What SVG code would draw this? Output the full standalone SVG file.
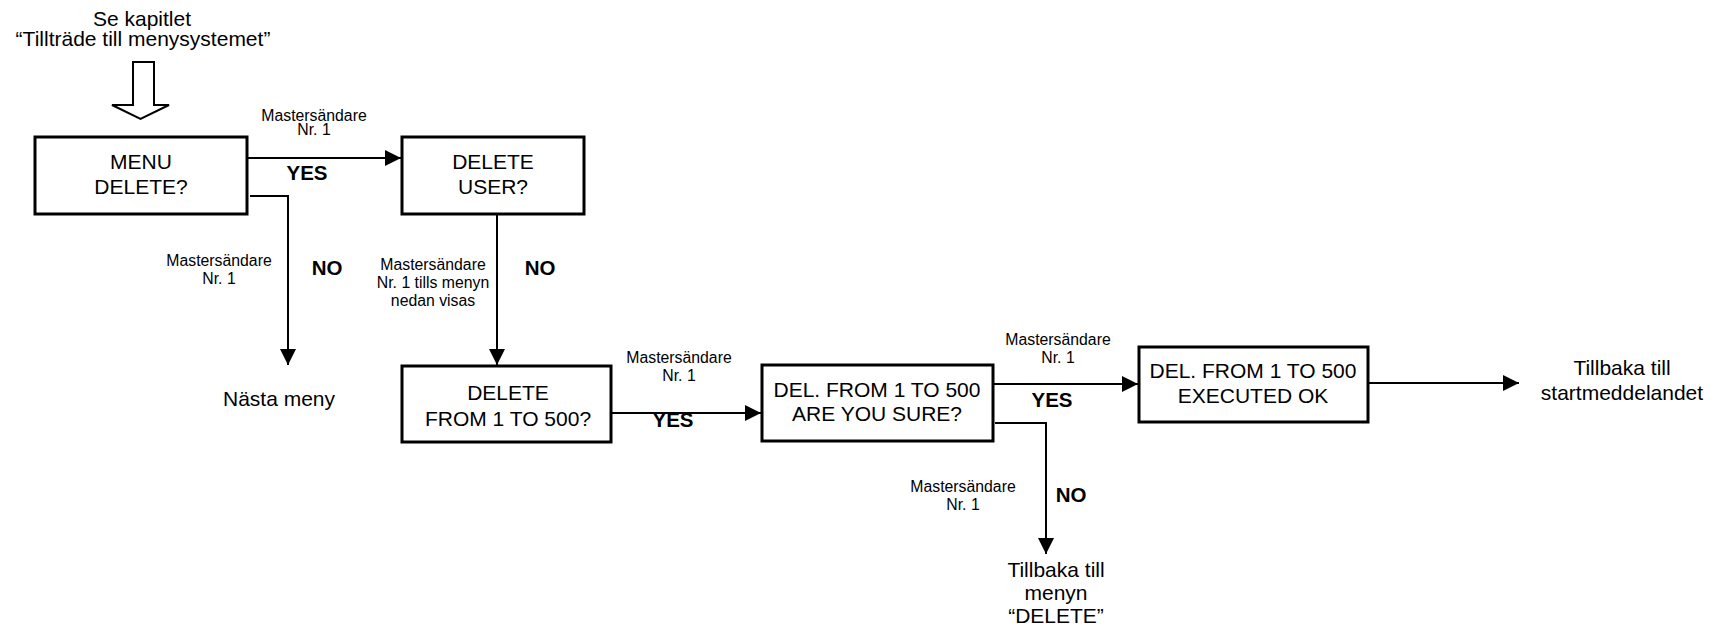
<svg xmlns="http://www.w3.org/2000/svg" width="1711" height="627" viewBox="0 0 1711 627">
<style>
.box{fill:#fff;stroke:#000;stroke-width:3}
.t{font-family:"Liberation Sans",Arial,sans-serif;font-size:21px;text-anchor:middle;fill:#000}
.s{font-size:15.8px}
.b{font-weight:bold;font-size:20.5px}
.c{fill:none;stroke:#000;stroke-width:2}
.h{fill:#fff;stroke:#000;stroke-width:2;stroke-linejoin:miter}
</style>
<defs>
<marker id="ah" markerUnits="userSpaceOnUse" markerWidth="17" markerHeight="17" refX="16" refY="8" orient="auto">
<path d="M0,0 L16,8 L0,16 Z" fill="#000"/>
</marker>
</defs>
<rect width="1711" height="627" fill="#fff"/>

<g id="start">
<text class="t" x="142" y="25.5">Se kapitlet</text>
<text class="t" x="143" y="46">“Tillträde till menysystemet”</text>
<polygon class="h" points="133,62 154,62 154,105 169,105 140.5,119 112,105 133,105"/>
</g>

<g id="connectors">
<polyline class="c" points="247,158 401,158" marker-end="url(#ah)"/>
<polyline class="c" points="250,196 288,196 288,365" marker-end="url(#ah)"/>
<polyline class="c" points="497,214 497,365" marker-end="url(#ah)"/>
<polyline class="c" points="611,413 761,413" marker-end="url(#ah)"/>
<polyline class="c" points="993,384 1138,384" marker-end="url(#ah)"/>
<polyline class="c" points="995,423 1046,423 1046,554" marker-end="url(#ah)"/>
<polyline class="c" points="1368,383 1519,383" marker-end="url(#ah)"/>
</g>

<g id="labels">
<text class="t s" x="314" y="121">Mastersändare</text>
<text class="t s" x="314" y="135">Nr. 1</text>
<text class="t b" x="307" y="180">YES</text>
<text class="t s" x="219" y="266">Mastersändare</text>
<text class="t s" x="219" y="284">Nr. 1</text>
<text class="t b" x="327" y="275">NO</text>
<text class="t s" x="433" y="270">Mastersändare</text>
<text class="t s" x="433" y="288">Nr. 1 tills menyn</text>
<text class="t s" x="433" y="306">nedan visas</text>
<text class="t b" x="540" y="275">NO</text>
<text class="t s" x="679" y="363">Mastersändare</text>
<text class="t s" x="679" y="381">Nr. 1</text>
<text class="t b" x="673" y="427">YES</text>
<text class="t s" x="1058" y="345">Mastersändare</text>
<text class="t s" x="1058" y="363">Nr. 1</text>
<text class="t b" x="1052" y="407">YES</text>
<text class="t s" x="963" y="492">Mastersändare</text>
<text class="t s" x="963" y="510">Nr. 1</text>
<text class="t b" x="1071" y="502">NO</text>
</g>

<g id="next-menu">
<text class="t" x="279" y="406">Nästa meny</text>
</g>

<g id="back-delete">
<text class="t" x="1056" y="577">Tillbaka till</text>
<text class="t" x="1056" y="600">menyn</text>
<text class="t" x="1056" y="623">“DELETE”</text>
</g>

<g id="back-start">
<text class="t" x="1622" y="375">Tillbaka till</text>
<text class="t" x="1622" y="400">startmeddelandet</text>
</g>

<g id="menu-delete">
<rect class="box" x="35" y="137" width="212" height="77"/>
<text class="t" x="141" y="169">MENU</text>
<text class="t" x="141" y="194">DELETE?</text>
</g>

<g id="delete-user">
<rect class="box" x="402" y="137" width="182" height="77"/>
<text class="t" x="493" y="169">DELETE</text>
<text class="t" x="493" y="194">USER?</text>
</g>

<g id="delete-range">
<rect class="box" x="402" y="366" width="209" height="76"/>
<text class="t" x="508" y="400">DELETE</text>
<text class="t" x="508" y="426">FROM 1 TO 500?</text>
</g>

<g id="are-you-sure">
<rect class="box" x="762" y="365" width="231" height="76"/>
<text class="t" x="877" y="397">DEL. FROM 1 TO 500</text>
<text class="t" x="877" y="421">ARE YOU SURE?</text>
</g>

<g id="executed">
<rect class="box" x="1139" y="347" width="229" height="75"/>
<text class="t" x="1253" y="378">DEL. FROM 1 TO 500</text>
<text class="t" x="1253" y="403">EXECUTED OK</text>
</g>
</svg>
